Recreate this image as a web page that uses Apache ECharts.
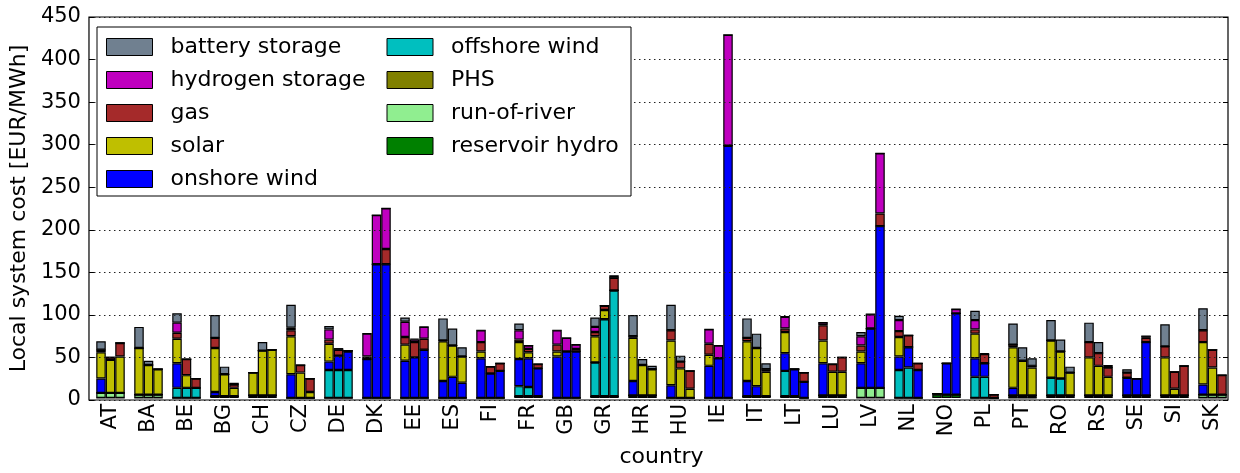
<!DOCTYPE html>
<html>
<head>
<meta charset="utf-8">
<script src="https://cdn.jsdelivr.net/npm/echarts@6.0.0/dist/echarts.min.js"></script>
<style>
  html, body { margin: 0; padding: 0; background: #fff; }
  #chart { width: 1240px; height: 473px; }
</style>
</head>
<body>
<div id="chart"></div>
<script>
// countries on the x axis, three scenario bars per country
const countries = ['AT', 'BA', 'BE', 'BG', 'CH', 'CZ', 'DE', 'DK', 'EE', 'ES',
  'FI', 'FR', 'GB', 'GR', 'HR', 'HU', 'IE', 'IT', 'LT', 'LU',
  'LV', 'NL', 'NO', 'PL', 'PT', 'RO', 'RS', 'SE', 'SI', 'SK']

// one triple per country: [bar 1, bar 2, bar 3], EUR/MWh
const reservoirHydro = [[0,0,0],[0,0,0],[0,0,0],[2,2,2],[3,3,3],[0,0,0],[0,0,0],[0,0,0],[0,0,0],[0,0,0],
  [0,0,0],[2,2,2],[0,0,0],[2,2,2],[3,3,3],[0,0,0],[0,0,0],[2,2,2],[2,2,0],[3,3,3],
  [0,0,0],[0,0,0],[4,4,4],[0,0,0],[0,0,0],[3,3,3],[3,3,3],[3,3,3],[3,3,3],[0,0,0]]
const runOfRiver = [[6,6,6],[4,4,4],[0,0,0],[0,0,0],[0,0,0],[0,0,0],[0,0,0],[0,0,0],[0,0,0],[0,0,0],
  [0,0,0],[0,0,0],[0,0,0],[0,0,0],[0,0,0],[0,0,0],[0,0,0],[0,0,0],[0,0,0],[0,0,0],
  [12,12,12],[0,0,0],[1,0,0],[0,0,0],[3,3,3],[0,0,0],[0,0,0],[0,0,0],[0,0,0],[4,4,4]]
const phs = [[0,0,0],[0,0,0],[0,0,0],[0,0,0],[0,0,0],[0,0,0],[0,0,0],[0,0,0],[0,0,0],[0,0,0],
  [0,0,0],[0,0,0],[0,0,0],[0,0,0],[0,0,0],[0,0,0],[0,0,0],[0,0,0],[0,0,0],[0,0,0],
  [0,0,0],[0,0,0],[0,0,0],[0,0,0],[0,0,0],[0,0,0],[0,0,0],[0,0,0],[0,0,0],[0,0,0]]
const offshoreWind = [[0,0,0],[0,0,0],[12,12,12],[0,0,0],[0,0,0],[0,0,0],[33,33,33],[0,0,0],[0,0,0],[0,0,0],
  [0,0,0],[12,11,0],[0,0,0],[40,91,125],[0,0,0],[0,0,0],[0,0,0],[0,0,0],[30,0,0],[0,0,0],
  [0,0,0],[33,36,0],[0,0,0],[25,25,0],[0,0,0],[21,20,0],[0,0,0],[0,0,0],[0,0,0],[0,0,0]]
const onshoreWind = [[17,0,0],[0,0,0],[29,0,0],[5,0,0],[0,0,0],[28,0,0],[10,17,22],[46,158,158],[44,48,57],[20,25,18],
  [47,29,32],[32,34,33],[49,55,55],[0,0,0],[17,0,0],[15,0,0],[38,47,298],[18,12,0],[21,32,19],[38,0,0],
  [29,70,191],[16,24,33],[0,37,96],[22,16,0],[9,0,0],[0,0,0],[0,0,0],[21,20,63],[0,0,0],[12,0,0]]
const solar = [[31,39,43],[55,35,30],[29,15,0],[52,26,10],[27,53,54],[45,30,7],[21,0,0],[0,0,0],[19,0,0],[47,37,31],
  [8,0,0],[20,7,0],[6,0,0],[31,11,0],[51,36,31],[53,35,11],[13,0,0],[47,45,29],[25,0,0],[27,28,28],
  [14,0,0],[23,0,0],[0,0,0],[29,0,0],[48,41,33],[44,32,27],[45,35,22],[0,0,0],[45,8,0],[50,32,0]]
const gas = [[3,3,16],[0,0,0],[7,19,11],[12,0,4],[0,0,0],[7,9,16],[5,7,1],[3,0,18],[9,18,13],[1,0,0],
  [11,8,9],[3,4,5],[8,0,3],[5,5,15],[2,0,0],[12,8,21],[13,0,0],[4,0,3],[4,0,11],[18,9,17],
  [7,0,15],[7,14,8],[0,0,0],[5,11,4],[3,0,2],[0,0,0],[18,15,11],[6,0,5],[13,20,35],[14,21,23]]
const hydrogenStorage = [[0,0,0],[0,0,0],[12,0,0],[0,0,0],[0,0,0],[3,0,0],[12,0,0],[27,58,48],[18,3,14],[0,0,0],
  [14,0,0],[11,4,0],[17,16,5],[6,0,0],[0,0,0],[0,0,0],[17,15,131],[0,0,0],[14,0,0],[3,0,0],
  [11,17,71],[13,0,0],[0,0,5],[11,0,0],[0,0,0],[0,0,0],[0,0,0],[0,0,2],[0,0,0],[0,0,0]]
const batteryStorage = [[10,0,0],[25,5,0],[11,0,0],[27,9,2],[0,10,0],[27,0,0],[4,2,0],[0,0,0],[5,1,0],[26,20,11],
  [0,0,0],[8,0,0],[0,0,0],[11,0,3],[25,7,4],[30,7,0],[0,0,0],[23,17,7],[0,0,0],[0,0,0],
  [5,0,0],[5,0,0],[0,0,0],[11,1,0],[25,16,9],[24,14,7],[23,13,3],[4,0,0],[26,0,0],[26,0,0]]

// bottom to top stacking order
const techs = [
  {name: 'reservoir hydro', data: reservoirHydro, color: '#008000'},
  {name: 'run-of-river', data: runOfRiver, color: '#90ee90'},
  {name: 'PHS', data: phs, color: '#808000'},
  {name: 'offshore wind', data: offshoreWind, color: '#00bfbf'},
  {name: 'onshore wind', data: onshoreWind, color: '#0000ff'},
  {name: 'solar', data: solar, color: '#bfbf00'},
  {name: 'gas', data: gas, color: '#a52a2a'},
  {name: 'hydrogen storage', data: hydrogenStorage, color: '#bf00bf'},
  {name: 'battery storage', data: batteryStorage, color: '#708090'}
]
const legendCol1 = ['battery storage', 'hydrogen storage', 'gas', 'solar', 'onshore wind']
const legendCol2 = ['offshore wind', 'PHS', 'run-of-river', 'reservoir hydro']

const font = 'DejaVu Sans'
const series = []
for (let s = 0; s < 3; s++) {
  techs.forEach(t => {
    series.push({
      name: t.name,
      type: 'bar',
      stack: 'scen' + s,
      xAxisIndex: 0,
      yAxisIndex: 2,
      barGap: '0%',
      barCategoryGap: '25%',
      data: t.data.map(v => v[s]),
      itemStyle: {color: t.color, borderColor: '#000', borderWidth: 1.2},
      emphasis: {disabled: true}
    })
  })
}

const chart = echarts.init(document.getElementById('chart'))
chart.setOption({
  animation: false,
  textStyle: {fontFamily: font},
  grid: [
    {left: 88, right: 12, top: 17, bottom: 73, show: true, borderColor: '#000', borderWidth: 1.2},
    {left: 91.5, right: 8.5, top: 17, bottom: 73}
  ],
  legend: {
    orient: 'vertical',
    left: 97,
    top: 27,
    height: 172,
    padding: [8, 8, 5, 9],
    itemGap: 9,
    itemWidth: 46,
    itemHeight: 17,
    icon: 'rect',
    selectedMode: false,
    backgroundColor: '#fff',
    borderColor: '#000',
    borderWidth: 1,
    itemStyle: {borderColor: '#000', borderWidth: 1},
    textStyle: {fontFamily: font, fontSize: 22, color: '#000', lineHeight: 24, padding: [0, 0, 0, 13]},
    data: legendCol1.map(n => ({name: n, textStyle: {width: 207}}))
      .concat(legendCol2.map(n => ({name: n, textStyle: {width: 172}})))
  },
  xAxis: [
    {
      type: 'category', gridIndex: 1, data: countries, position: 'bottom', z: 5,
      axisLine: {show: false},
      axisTick: {inside: true, alignWithLabel: true, length: 5, lineStyle: {color: '#000'}},
      axisLabel: {rotate: 90, fontSize: 21, color: '#000', fontFamily: font, margin: 6},
      name: 'country', nameLocation: 'middle', nameGap: 48,
      nameTextStyle: {fontSize: 22, color: '#000', fontFamily: font}
    },
    {
      type: 'category', gridIndex: 1, data: countries, position: 'top', z: 5,
      axisLine: {show: false},
      axisTick: {inside: true, alignWithLabel: true, length: 5, lineStyle: {color: '#000'}},
      axisLabel: {show: false}
    },
    {type: 'value', gridIndex: 0, show: false}
  ],
  yAxis: [
    {
      type: 'value', gridIndex: 0, min: 0, max: 450, interval: 50, position: 'left', z: 3,
      axisLine: {show: false},
      axisTick: {inside: true, length: 5, lineStyle: {color: '#000'}},
      axisLabel: {fontSize: 21, color: '#000', fontFamily: font, margin: 8},
      splitLine: {show: true, lineStyle: {color: '#222', type: [1.5, 3.5], width: 1}},
      name: 'Local system cost [EUR/MWh]', nameLocation: 'middle', nameGap: 58,
      nameTextStyle: {fontSize: 22, color: '#000', fontFamily: font}
    },
    {
      type: 'value', gridIndex: 0, min: 0, max: 450, interval: 50, position: 'right', z: 3,
      axisLine: {show: false},
      axisTick: {inside: true, length: 5, lineStyle: {color: '#000'}},
      axisLabel: {show: false},
      splitLine: {show: false}
    },
    {type: 'value', gridIndex: 1, min: 0, max: 450, show: false}
  ],
  series: series
})
</script>
</body>
</html>
